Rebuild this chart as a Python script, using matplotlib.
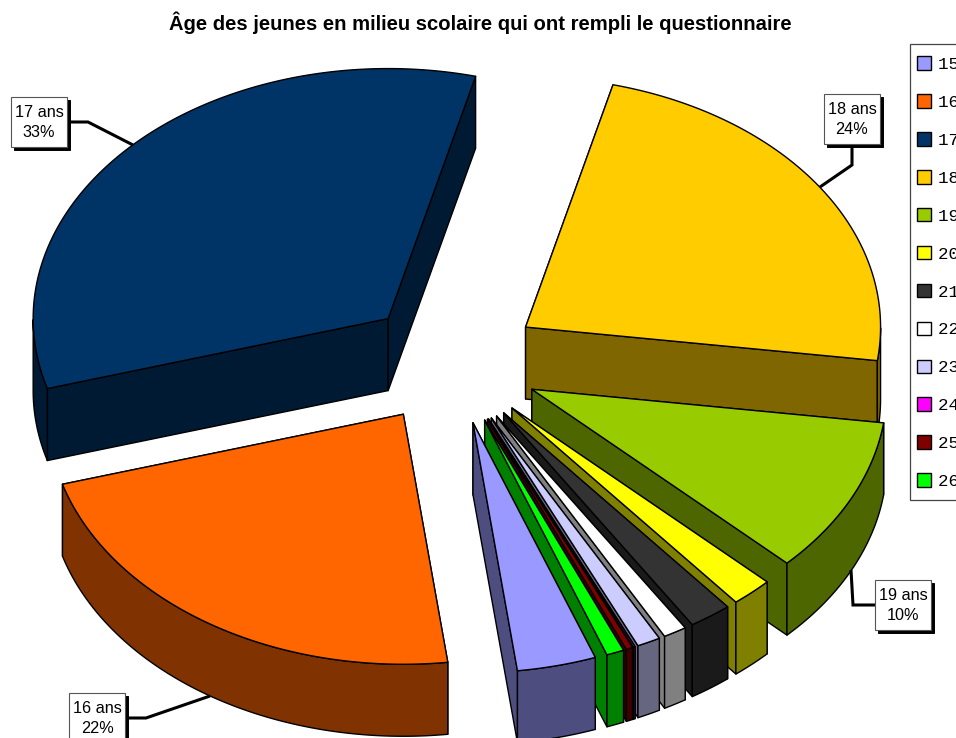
import numpy as np
import matplotlib
matplotlib.use("Agg")
import matplotlib.pyplot as plt
from matplotlib.patches import Polygon, Rectangle, Patch
from matplotlib.transforms import Affine2D
from matplotlib.colors import to_rgb

# ---- data ----
categories = ["15 ans", "16 ans", "17 ans", "18 ans", "19 ans", "20 ans",
              "21 ans", "22 ans", "23 ans", "24 ans", "25 ans", "26 ans"]
values = [3.6, 22.5, 33.5, 23.2, 10.1, 1.9, 1.95, 1.07, 1.07, 0.08, 0.3, 0.8]
colors = ["#9999FF", "#FF6600", "#003366", "#FFCC00", "#99CC00", "#FFFF00",
          "#333333", "#FFFFFF", "#CCCCFF", "#FF00FF", "#800000", "#00FF00"]
labelled = {"16 ans": "22%", "17 ans": "33%", "18 ans": "24%", "19 ans": "10%"}
title = "Âge des jeunes en milieu scolaire qui ont rempli le questionnaire"

# ---- style / geometry ----
W, H = 956, 738
CX, CY, RX, RY = 452, 362, 355, 250      # pie centre and radii, pixels
DEPTH = 72 / RY
EXPLODE = 0.25
START = 339.85                           # degrees clockwise from straight down
paint_order = [2, 3, 4, 5, 6, 7, 8, 9, 10, 11, 1, 0]
LW = 1.0
SANS = "Liberation Sans"

fig = plt.figure(figsize=(W / 100, H / 100), dpi=100, facecolor="white")
ax = fig.add_axes([0, 0, 1, 1])
ax.set_xlim(-CX / RX, (W - CX) / RX)
ax.set_ylim((CY - H) / RY, CY / RY)
ax.axis("off")


def unit(theta):
    t = np.radians(theta)
    return np.column_stack([-np.sin(t), -np.cos(t)])


fractions = np.array(values) / np.sum(values)
edges = START + np.concatenate([[0], np.cumsum(fractions)]) * 360


def draw_slice(i):
    a0, a1 = edges[i], edges[i + 1]
    centre = EXPLODE * unit(np.array([(a0 + a1) / 2]))[0]
    thetas = np.linspace(a0, a1, max(int((a1 - a0) * 2), 2) + 1)
    arc = centre + unit(thetas)
    down = np.array([0, -DEPTH])
    dark = tuple(c * 0.5 for c in to_rgb(colors[i]))
    style = dict(closed=True, edgecolor="black", linewidth=LW, joinstyle="round")
    # side faces: the two radial walls, then the part of the rim facing the viewer
    ax.add_patch(Polygon([centre, arc[0], arc[0] + down, centre + down],
                         facecolor=dark, **style))
    ax.add_patch(Polygon([centre, arc[-1], arc[-1] + down, centre + down],
                         facecolor=dark, **style))
    front = np.cos(np.radians(thetas)) > 0
    if front.sum() >= 2:
        rim = arc[front]
        ax.add_patch(Polygon(np.vstack([rim, (rim + down)[::-1]]),
                             facecolor=dark, **style))
    # top face
    ax.add_patch(Polygon(np.vstack([centre, arc]), facecolor=colors[i], **style))


for i in paint_order:
    draw_slice(i)

# ---- title ----
fig.text(480 / W, 1 - 23 / H, title, ha="center", va="center",
         fontfamily=SANS, fontweight="bold", fontsize=14.6)

# ---- callouts (pixel layout) ----
px = Affine2D().scale(1, -1).translate(0, H)
callouts = {
    "17 ans": ((11, 97), [(70, 122), (88, 122), (133, 145)]),
    "18 ans": ((824, 94), [(852, 146), (852, 165), (820, 187)]),
    "19 ans": ((875, 580), [(851, 570), (853, 605), (875, 605)]),
    "16 ans": ((69, 693), [(128, 718), (146, 718), (210, 696)]),
}
for name, ((bx, by), leader) in callouts.items():
    xs, ys = zip(*leader)
    ax.plot(xs, ys, color="black", lw=2.2, transform=px, solid_joinstyle="miter",
            solid_capstyle="butt", zorder=5, clip_on=False)
    ax.add_patch(Rectangle((bx + 3, by + 3), 56, 50, facecolor="black",
                           edgecolor="black", lw=0.7, transform=px, zorder=6))
    ax.add_patch(Rectangle((bx, by), 56, 50, facecolor="white",
                           edgecolor="#555555", lw=0.8, transform=px, zorder=7))
    ax.text(bx + 28, by + 25.5, f"{name}\n{labelled[name]}", transform=px, ha="center",
            va="center", fontfamily=SANS, fontsize=11.7, linespacing=1.42,
            color="black", zorder=8)

# ---- legend ----
ax.add_patch(Rectangle((909.5, 43.5), 100, 456, facecolor="white", edgecolor="#444444",
                       lw=0.9, transform=px, zorder=9, clip_on=False))
handles = [Patch(facecolor=c, edgecolor="black", linewidth=1.0) for c in colors]
leg = ax.legend(handles, categories, loc="upper left",
                bbox_to_anchor=(910 / W, 1 - 49.5 / H), bbox_transform=fig.transFigure,
                prop={"family": "Liberation Mono", "size": 12.6},
                frameon=False,
                handlelength=0.8, handleheight=0.8, handletextpad=0.4,
                labelspacing=1.263, borderpad=0.4, borderaxespad=0, columnspacing=0)
leg.set_zorder(10)

fig.savefig("out.png", dpi=100, facecolor="white")
